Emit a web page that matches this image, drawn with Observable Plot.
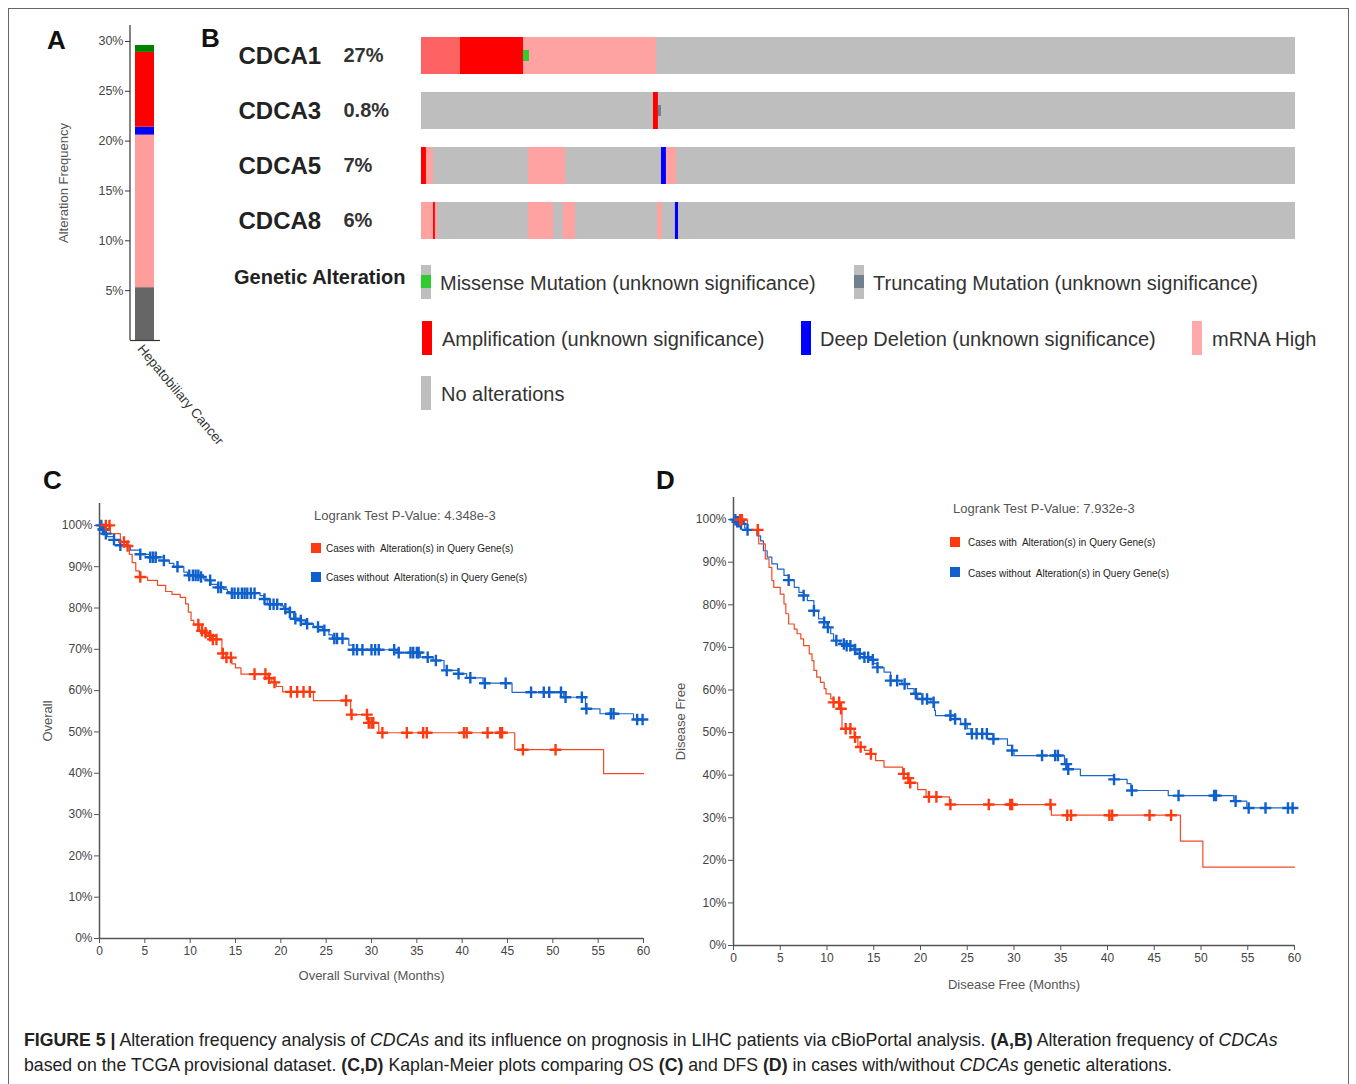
<!DOCTYPE html>
<html><head><meta charset="utf-8">
<script src="https://cdn.jsdelivr.net/npm/d3@7"></script>
<script src="https://cdn.jsdelivr.net/npm/@observablehq/plot@0.6"></script>
<style>
body{margin:0;background:#fff;font-family:"Liberation Sans",Arial,Helvetica,sans-serif;}
#fig{position:relative;width:1356px;height:1084px;overflow:hidden;background:#fff;}
.abs{position:absolute;white-space:nowrap;line-height:1;}
.frame{position:absolute;left:8px;top:8px;width:1341px;height:1100px;border:1px solid #666;box-sizing:border-box;}
</style></head>
<body><div id="fig"><div class="frame"></div></div>
<script>
// ---------------- DATA ----------------
// Panel A: alteration frequency (stacked)
const aCancer = ["Hepatobiliary Cancer"];
const aTypes = ["Multiple Alterations", "mRNA High", "Deep Deletion", "Amplification", "Mutation"];
const aFreq = [0.053, 0.153, 0.008, 0.075, 0.007];
const aColors = ["#666666", "#ff9c9c", "#0000ff", "#ff0000", "#008000"];
const aTicks = [0.05, 0.10, 0.15, 0.20, 0.25, 0.30];

// Panel B: oncoprint
const genes = ["CDCA1", "CDCA3", "CDCA5", "CDCA8"];
const genePct = ["27%", "0.8%", "7%", "6%"];
const nSamples = 370;
const cdca1Alt = [[0, 16.5, "Amplification + mRNA High"], [16.5, 43.2, "Amplification"], [43.2, 99.5, "mRNA High"], [43.2, 45.7, "Missense Mutation"]];
const cdca3Alt = [[98.2, 100.3, "Amplification"], [100.3, 101.6, "Truncating Mutation"]];
const cdca5Alt = [[0, 2.1, "Amplification"], [2.1, 5.1, "mRNA High"], [45.3, 61, "mRNA High"], [101.6, 103.7, "Deep Deletion"], [103.7, 108, "mRNA High"]];
const cdca8Alt = [[0, 5.1, "mRNA High"], [5.1, 5.9, "Amplification"], [5.9, 6.8, "mRNA High"], [45.3, 55.9, "mRNA High"], [60.1, 65.2, "mRNA High"], [99.9, 102, "mRNA High"], [107.5, 108.8, "Deep Deletion"]];
const oncoTypes = ["Amplification + mRNA High", "Amplification", "Deep Deletion", "mRNA High", "Missense Mutation", "Truncating Mutation"];
const oncoColors = ["#ff6262", "#ff0000", "#0000ff", "#ffa2a2", "#2fcc2f", "#708090"];
const smallGlyphs = ["Missense Mutation", "Truncating Mutation"];

// Panel C: overall survival  [month, survival]
const osAltSteps = [[0,1],[1.2,0.98],[2.3,0.96],[3.0,0.95],[3.3,0.93],[3.6,0.91],[4.0,0.89],[4.4,0.875],[5.3,0.867],[6.4,0.855],[7.3,0.84],[8.0,0.833],[8.9,0.826],[9.5,0.81],[9.8,0.79],[10.1,0.77],[10.4,0.76],[11.0,0.745],[11.5,0.74],[12.0,0.733],[12.4,0.724],[13.5,0.69],[14.0,0.68],[14.6,0.665],[15.0,0.655],[15.6,0.64],[18.6,0.63],[19.0,0.62],[19.5,0.61],[20.2,0.597],[23.6,0.576],[27.7,0.542],[29.6,0.522],[30.8,0.498],[45.8,0.457],[55.6,0.399],[60,0.399]];
const osAltCensor = [0.7,1.1,2.7,3.1,4.5,10.9,11.3,11.7,12.2,12.5,12.9,13.6,14.0,14.5,17.1,18.3,18.7,19.3,21.1,21.8,22.5,23.2,27.2,27.8,29.5,29.7,30.0,30.2,31.2,33.9,35.7,36.1,40.2,40.5,42.8,44.2,44.4,46.7,50.3];
const osUnaltSteps = [[0,1],[0.3,0.99],[0.6,0.98],[0.85,0.973],[1.6,0.965],[2.3,0.952],[3.4,0.94],[4.5,0.93],[5.6,0.923],[7.1,0.915],[7.7,0.908],[8.2,0.9],[9.3,0.887],[9.7,0.879],[11.2,0.875],[11.5,0.87],[11.9,0.867],[12.3,0.857],[13.0,0.85],[13.7,0.845],[14.1,0.84],[14.4,0.836],[17.7,0.83],[18.1,0.822],[18.5,0.809],[20.0,0.805],[20.3,0.798],[20.8,0.79],[21.4,0.774],[22.0,0.77],[22.7,0.762],[23.6,0.754],[24.6,0.746],[25.3,0.735],[25.7,0.726],[27.5,0.71],[28.0,0.699],[32.8,0.692],[35.4,0.681],[36.8,0.673],[38.0,0.649],[39.6,0.641],[40.5,0.631],[42.3,0.618],[45.5,0.596],[51.2,0.584],[53.6,0.556],[55.2,0.544],[58.9,0.53],[60,0.53]];
const osUnaltCensor = [0.2,0.4,0.5,0.7,1.6,2.3,4.5,5.6,5.9,6.2,7.1,8.6,9.9,10.3,10.6,10.9,11.2,12.2,13.1,13.4,14.6,14.9,15.3,15.7,16.0,16.3,16.7,17.1,18.2,18.8,19.2,19.6,20.5,21.0,21.6,22.2,22.9,24.1,24.8,25.9,26.2,26.8,28.0,28.4,29.0,30.0,30.4,30.8,32.5,33.0,34.3,34.6,35.0,35.2,36.2,37.1,38.3,39.6,40.9,42.5,44.8,47.6,49.0,49.6,50.9,51.4,53.2,53.7,56.4,56.7,59.3,59.9];

// Panel D: disease free survival  [month, survival]
const dfsAltSteps = [[0,1],[1.0,0.998],[1.5,0.976],[2.7,0.943],[3.4,0.908],[3.8,0.888],[4.1,0.857],[4.3,0.841],[5.0,0.825],[5.4,0.802],[5.6,0.779],[5.9,0.755],[6.5,0.743],[6.8,0.732],[7.2,0.72],[7.5,0.704],[8.1,0.685],[8.4,0.669],[8.6,0.646],[8.9,0.63],[9.3,0.618],[9.7,0.603],[9.9,0.591],[10.4,0.579],[10.7,0.571],[11.4,0.556],[11.6,0.509],[12.9,0.489],[13.3,0.466],[14.0,0.458],[14.6,0.45],[15.2,0.434],[16.1,0.419],[18.1,0.403],[18.6,0.393],[18.9,0.382],[19.7,0.366],[20.6,0.349],[23.1,0.331],[34.0,0.306],[47.8,0.245],[50.2,0.184],[60,0.184]];
const dfsAltCensor = [0.7,0.9,2.6,10.7,11.3,11.5,12.0,12.5,13.0,13.6,14.7,18.2,18.7,18.9,20.9,21.7,23.2,27.3,29.6,29.8,33.9,35.7,36.1,40.2,40.5,44.5,46.8];
const dfsUnaltSteps = [[0,1],[0.3,0.995],[0.7,0.99],[1.2,0.98],[1.5,0.976],[2.5,0.962],[2.9,0.95],[3.2,0.927],[3.6,0.912],[4.1,0.896],[4.7,0.884],[5.4,0.869],[5.9,0.858],[6.5,0.841],[7.0,0.829],[7.5,0.822],[7.9,0.81],[8.6,0.786],[9.1,0.767],[9.7,0.759],[10.0,0.747],[10.4,0.732],[10.7,0.716],[11.4,0.708],[12.0,0.704],[12.8,0.695],[13.2,0.685],[14.0,0.677],[14.7,0.671],[15.0,0.662],[15.4,0.653],[16.1,0.642],[16.8,0.622],[18.0,0.614],[18.6,0.603],[19.3,0.591],[19.7,0.579],[21.1,0.571],[21.5,0.552],[21.6,0.54],[23.7,0.532],[24.3,0.52],[25.0,0.509],[25.4,0.497],[27.8,0.485],[29.3,0.47],[29.8,0.458],[30.0,0.446],[35.4,0.426],[35.7,0.414],[37.1,0.399],[40.7,0.39],[42.1,0.38],[42.5,0.364],[46.5,0.352],[53.5,0.339],[54.9,0.323],[60,0.323]];
const dfsUnaltCensor = [0.2,0.4,0.6,0.8,1.5,5.9,7.5,8.6,9.7,10.1,11.0,11.8,12.1,12.5,13.0,13.5,14.0,14.4,14.9,15.4,16.8,17.5,18.3,19.5,20.2,20.7,21.4,23.2,23.7,24.8,25.5,26.0,26.6,27.1,27.8,29.8,33.0,34.4,34.7,35.6,35.8,40.7,42.6,47.6,51.4,51.6,53.7,55.1,56.9,59.3,59.8];

const kmTicksX = d3.range(0, 61, 5);
const kmTicksY = d3.range(0, 11).map(d => d / 10);
const redLine = "#f24a24", redMark = "#ff3a10";
const blueLine = "#1f66c8", blueMark = "#1060cc";

// ---------------- HELPERS ----------------
const FONT = '"Liberation Sans", Arial, Helvetica, sans-serif';
const fig = document.getElementById("fig");
function addText(html, x, cy, fs, css = {}) {
  const d = document.createElement("div");
  d.className = "abs";
  d.innerHTML = html;
  d.style.left = x + "px";
  d.style.top = (cy - 0.5 * fs) + "px";
  d.style.fontSize = fs + "px";
  Object.assign(d.style, css);
  fig.appendChild(d);
  return d;
}
function addBox(x, y, w, h, color) {
  const d = document.createElement("div");
  d.className = "abs";
  Object.assign(d.style, {left: x + "px", top: y + "px", width: w + "px", height: h + "px", background: color});
  fig.appendChild(d);
  return d;
}
function place(node, x, y) {
  const d = document.createElement("div");
  d.className = "abs";
  d.style.left = x + "px"; d.style.top = y + "px";
  d.appendChild(node);
  fig.appendChild(d);
}
function stepAt(steps, t) {
  let s = steps[0][1];
  for (const [tt, ss] of steps) { if (tt <= t) s = ss; else break; }
  return s;
}
const baseStyle = {fontFamily: FONT, fontSize: "12px", color: "#444", background: "transparent", overflow: "visible"};

// ---------------- PANEL LETTERS ----------------
addText("A", 47, 40, 26, {fontWeight: "bold", color: "#111"});
addText("B", 201, 38, 26, {fontWeight: "bold", color: "#111"});
addText("C", 43, 480, 26, {fontWeight: "bold", color: "#111"});
addText("D", 656, 480, 26, {fontWeight: "bold", color: "#111"});

// ---------------- PANEL A ----------------
const aData = aTypes.map((t, i) => ({cancer: aCancer[0], type: t, freq: aFreq[i]}));
const plotA = Plot.plot({
  width: 240, height: 460, marginLeft: 130, marginRight: 80, marginTop: 25, marginBottom: 120,
  x: {domain: aCancer, padding: 0.2, axis: null},
  y: {domain: [0, 0.316], axis: null},
  color: {domain: aTypes, range: aColors},
  style: {...baseStyle, fontSize: "12.5px"},
  marks: [
    Plot.barY(aData, {x: "cancer", y: "freq", fill: "type"}),
    Plot.axisY({ticks: aTicks, tickFormat: d3.format(".0%"), tickSize: 5, tickPadding: 2, label: null, stroke: "#333", fill: "#444"}),
    Plot.ruleY([0], {stroke: "#333", strokeWidth: 1.2}),
    Plot.axisX({tickSize: 0, tickRotate: 50, tickPadding: 6, dx: -5, label: null, fontSize: 13.5, fill: "#333"}),
    Plot.text(["Alteration Frequency"], {frameAnchor: "left", textAnchor: "middle", rotate: -90, dx: -67, fontSize: 13, fill: "#555"})
  ]
});
d3.select(plotA).append("line").attr("x1", 130).attr("x2", 130).attr("y1", 25).attr("y2", 340).attr("stroke", "#333").attr("stroke-width", 1.2);
place(plotA, 0, 0);

// ---------------- PANEL B ----------------
const oncoRows = [cdca1Alt, cdca3Alt, cdca5Alt, cdca8Alt].flatMap((segs, gi) =>
  segs.map(([s, e, t]) => ({gene: genes[gi], start: s, end: e, type: t})));
const tracks = genes.map(g => ({gene: g, start: 0, end: nSamples}));
const plotB = Plot.plot({
  width: 1310, height: 250, marginLeft: 421, marginRight: 15, marginTop: 35, marginBottom: 9,
  x: {domain: [0, nSamples], axis: null},
  y: {domain: genes, paddingInner: 0.32, paddingOuter: 0, axis: null},
  color: {domain: oncoTypes, range: oncoColors},
  style: baseStyle,
  marks: [
    Plot.barX(tracks, {x1: "start", x2: "end", y: "gene", fill: "#bebebe"}),
    Plot.barX(oncoRows.filter(d => !smallGlyphs.includes(d.type)), {x1: "start", x2: "end", y: "gene", fill: "type"}),
    Plot.barX(oncoRows.filter(d => smallGlyphs.includes(d.type)), {x1: "start", x2: "end", y: "gene", fill: "type", insetTop: 13, insetBottom: 13}),
    Plot.text(genes, {y: d => d, text: d => d, frameAnchor: "left", textAnchor: "start", dx: -183, fontSize: 24, fontWeight: "bold", fill: "#222"}),
    Plot.text(genes, {y: d => d, text: (d, i) => genePct[i], frameAnchor: "left", textAnchor: "start", dx: -78, fontSize: 20, fontWeight: "bold", fill: "#333"})
  ]
});
place(plotB, 0, 0);

// Legend B (HTML)
addText("Genetic Alteration", 234, 277, 20, {fontWeight: "bold", color: "#222"});
function legendGlyph(x, cy, bg, inner) {
  addBox(x, cy - 17, 10, 34, bg);
  if (inner) addBox(x, cy - 7, 10, 13, inner);
}
const legendRows = [
  [[421, 282, "#bebebe", "#2fcc2f", 440, "Missense Mutation (unknown significance)"],
   [854, 282, "#bebebe", "#708090", 873, "Truncating Mutation (unknown significance)"]],
  [[422, 338, "#ff0000", null, 442, "Amplification (unknown significance)"],
   [801, 338, "#0000ff", null, 820, "Deep Deletion (unknown significance)"],
   [1192, 338, "#ffaaaa", null, 1212, "mRNA High"]],
  [[421, 393, "#bebebe", null, 441, "No alterations"]]
];
legendRows.flat().forEach(([gx, cy, bg, inner, tx, label]) => {
  legendGlyph(gx, cy, bg, inner);
  addText(label, tx, cy + 1, 20, {color: "#333"});
});

// ---------------- KM helper ----------------
function kmPlot(cfg) {
  const alt = cfg.altSteps.map(([t, s]) => ({t, s}));
  const unalt = cfg.unaltSteps.map(([t, s]) => ({t, s}));
  const altC = cfg.altCensor.map(t => ({t, s: stepAt(cfg.altSteps, t)}));
  const unaltC = cfg.unaltCensor.map(t => ({t, s: stepAt(cfg.unaltSteps, t)}));
  return Plot.plot({
    width: cfg.width, height: cfg.height,
    marginLeft: cfg.ml, marginRight: cfg.mr, marginTop: cfg.mt, marginBottom: cfg.mb,
    x: {domain: [0, 60], axis: null},
    y: {domain: [0, cfg.ytop], axis: null},
    style: baseStyle,
    marks: [
      Plot.axisY({ticks: kmTicksY, tickFormat: d3.format(".0%"), tickSize: 5, tickPadding: 2, label: null, stroke: "#555", fill: "#444", fontSize: 12}),
      Plot.axisX({ticks: kmTicksX, tickSize: 5, tickPadding: 3, label: null, stroke: "#555", fill: "#444", fontSize: 12}),
      Plot.ruleX([0], {stroke: "#555", strokeWidth: 1.5}),
      Plot.ruleY([0], {stroke: "#555", strokeWidth: 1.5}),
      Plot.line(unalt, {x: "t", y: "s", curve: "step-after", stroke: blueLine, strokeWidth: 1.2}),
      Plot.line(alt, {x: "t", y: "s", curve: "step-after", stroke: redLine, strokeWidth: 1.2}),
      Plot.dot(unaltC, {x: "t", y: "s", symbol: "plus", r: 3.8, stroke: blueMark, strokeWidth: 2.4}),
      Plot.dot(altC, {x: "t", y: "s", symbol: "plus", r: 3.8, stroke: redMark, strokeWidth: 2.4}),
      Plot.text([cfg.xlabel], {frameAnchor: "bottom", dy: cfg.xdy, fontSize: 13, fill: "#555"}),
      Plot.text([cfg.ylabel], {frameAnchor: "left", textAnchor: "middle", rotate: -90, dx: cfg.ydx, fontSize: 13, fill: "#555"})
    ]
  });
}

// ---------------- PANEL C ----------------
place(kmPlot({
  width: 630, height: 510, ml: 69, mr: 17, mt: 13, mb: 62, ytop: 1.053,
  altSteps: osAltSteps, altCensor: osAltCensor, unaltSteps: osUnaltSteps, unaltCensor: osUnaltCensor,
  xlabel: "Overall Survival (Months)", xdy: 41, ylabel: "Overall", ydx: -52
}), 30, 490);
addText("Logrank Test P-Value: 4.348e-3", 314, 515, 13, {color: "#555"});
addBox(311, 543, 10, 10, redMark);
addText("Cases with&nbsp; Alteration(s) in Query Gene(s)", 326, 549, 10, {color: "#222"});
addBox(311, 572, 10, 10, blueMark);
addText("Cases without&nbsp; Alteration(s) in Query Gene(s)", 326, 578, 10, {color: "#222"});

// ---------------- PANEL D ----------------
place(kmPlot({
  width: 690, height: 530, ml: 73, mr: 56, mt: 17, mb: 65, ytop: 1.052,
  altSteps: dfsAltSteps, altCensor: dfsAltCensor, unaltSteps: dfsUnaltSteps, unaltCensor: dfsUnaltCensor,
  xlabel: "Disease Free (Months)", xdy: 43, ylabel: "Disease Free", ydx: -53
}), 660, 480);
addText("Logrank Test P-Value: 7.932e-3", 953, 508, 13, {color: "#555"});
addBox(950, 537, 10, 10, redMark);
addText("Cases with&nbsp; Alteration(s) in Query Gene(s)", 968, 543, 10, {color: "#222"});
addBox(950, 567, 10, 10, blueMark);
addText("Cases without&nbsp; Alteration(s) in Query Gene(s)", 968, 574, 10, {color: "#222"});

// ---------------- CAPTION ----------------
const cap1 = addText('<b>FIGURE 5 |</b> Alteration frequency analysis of <i>CDCAs</i> and its influence on prognosis in LIHC patients via cBioPortal analysis. <b>(A,B)</b> Alteration frequency of <i>CDCAs</i>', 24, 1041, 16, {color: "#222"});
const cap2 = addText('based on the TCGA provisional dataset. <b>(C,D)</b> Kaplan-Meier plots comparing OS <b>(C)</b> and DFS <b>(D)</b> in cases with/without <i>CDCAs</i> genetic alterations.', 24, 1066, 16, {color: "#222"});
const w1 = cap1.getBoundingClientRect().width;
const fs = Math.max(13, Math.min(19, 16 * 1255 / w1));
[[cap1, 1041], [cap2, 1066]].forEach(([el, cy]) => { el.style.fontSize = fs + "px"; el.style.top = (cy - 0.5 * fs) + "px"; });
</script>
</body></html>
